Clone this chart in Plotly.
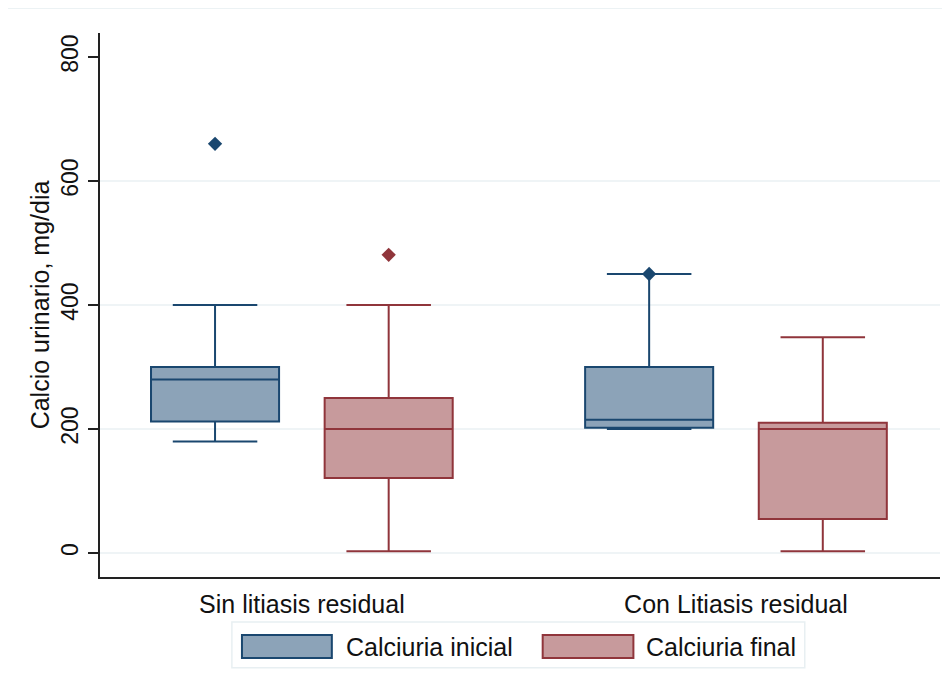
import plotly.graph_objects as go

# ---- data ----
categories = ["Sin litiasis residual", "Con Litiasis residual"]
series_names = ["Calciuria inicial", "Calciuria final"]

inicial_low = [180, 200]
inicial_q1 = [212, 202]
inicial_med = [280, 215]
inicial_q3 = [300, 300]
inicial_high = [400, 450]
inicial_out_group = [0, 1]
inicial_out_val = [660, 450]

final_low = [3, 3]
final_q1 = [121, 55]
final_med = [200, 200]
final_q3 = [250, 210]
final_high = [400, 348]
final_out_group = [0]
final_out_val = [481]

yticks = [0, 200, 400, 600, 800]
y_title = "Calcio urinario, mg/dia"

# ---- styles ----
line_cols = ["#1a476f", "#90353b"]
fill_cols = ["#8ca3b8", "#c79a9c"]
offsets = [-0.2, 0.2]
box_w = 0.295
font = "Liberation Sans, Arial, sans-serif"

fig = go.Figure()
pos = list(range(len(categories)))

# gridlines (none at the top tick, as in the reference)
for v in yticks[:-1]:
    fig.add_shape(type="line", xref="paper", yref="y", x0=0, x1=1, y0=v, y1=v,
                  line=dict(color="#eaf1f3", width=1.5), layer="below")

stats = [
    (inicial_low, inicial_q1, inicial_med, inicial_q3, inicial_high, inicial_out_group, inicial_out_val),
    (final_low, final_q1, final_med, final_q3, final_high, final_out_group, final_out_val),
]

for k, (lo, q1, med, q3, hi, og, ov) in enumerate(stats):
    fig.add_trace(go.Box(
        name=series_names[k],
        x=[p + offsets[k] for p in pos],
        lowerfence=lo, q1=q1, median=med, q3=q3, upperfence=hi,
        width=box_w, whiskerwidth=0.66,
        fillcolor=fill_cols[k],
        line=dict(color=line_cols[k], width=2),
        boxpoints=False, showlegend=False, hoverinfo="skip",
    ))
    fig.add_trace(go.Scatter(
        x=[g + offsets[k] for g in og], y=ov, mode="markers",
        marker=dict(symbol="diamond", size=11, color=line_cols[k]),
        showlegend=False, hoverinfo="skip",
    ))

# manual legend (wide swatches as in the reference)
fig.add_shape(type="rect", xref="paper", yref="paper",
              x0=0.157, x1=0.839, y0=-0.167, y1=-0.0827,
              line=dict(color="#e8eff2", width=1.5), fillcolor="white", layer="below")
sw = [(0.169, 0.276), (0.527, 0.635)]
tx = [0.290, 0.648]
for k in range(2):
    fig.add_shape(type="rect", xref="paper", yref="paper",
                  x0=sw[k][0], x1=sw[k][1], y0=-0.149, y1=-0.1066,
                  line=dict(color=line_cols[k], width=2), fillcolor=fill_cols[k])
    fig.add_annotation(xref="paper", yref="paper", x=tx[k], y=-0.128,
                       text=series_names[k], showarrow=False, xanchor="left",
                       yanchor="middle", font=dict(family=font, size=25, color="#111"))

# thin outer border line at top
fig.add_shape(type="line", xref="paper", yref="paper", x0=-0.12, x1=1.03,
              y0=1.046, y1=1.046, line=dict(color="#e6eef1", width=1.5))

fig.update_layout(
    width=950, height=695,
    margin=dict(l=92, r=18, t=25, b=126),
    paper_bgcolor="white", plot_bgcolor="white",
    boxmode="overlay",
    font=dict(family=font, size=25, color="#111"),
    xaxis=dict(
        range=[-0.465, 1.47], tickvals=pos, ticktext=categories,
        showline=True, linecolor="#222", linewidth=1.5,
        showgrid=False, zeroline=False, ticks="", ticklabelstandoff=4,
        tickfont=dict(size=25),
    ),
    yaxis=dict(
        range=[-38.7, 838.7], tickvals=yticks, tickangle=-90,
        showline=True, linecolor="#222", linewidth=1.5,
        ticks="outside", ticklen=10, tickcolor="#222", tickwidth=1.5,
        showgrid=False, zeroline=False,
        ticklabelstandoff=1, tickfont=dict(size=23),
        title=dict(text=y_title, font=dict(size=25), standoff=0),
    ),
)

fig.write_html("out.html")
